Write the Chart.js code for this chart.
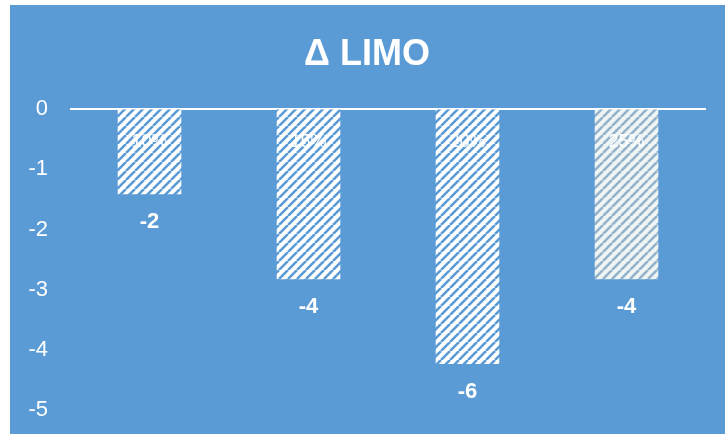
<!DOCTYPE html>
<html lang="en">
<head>
  <meta charset="UTF-8" />
  <title>Δ LIMO</title>
  <script src="https://cdn.jsdelivr.net/npm/chart.js"></script>
  <style>
    html, body { margin: 0; padding: 0; background: #fff; }
    canvas { display: block; }
  </style>
</head>
<body>
  <canvas id="limoChart" width="725" height="434"></canvas>

  <script>
    const categories = ['10%', '15%', '20%', '25%'];
    const limoDelta = [-2, -4, -6, -4];
    const axisTicks = [0, -1, -2, -3, -4, -5];

    const BLUE = '#5b9bd5';
    const canvas = document.getElementById('limoChart');
    const ctx = canvas.getContext('2d');

    // diagonal "/" hatch used to fill the bars
    function hatch(bg, fg) {
      const tile = document.createElement('canvas');
      tile.width = tile.height = 9;
      const g = tile.getContext('2d');
      g.fillStyle = bg;
      g.fillRect(0, 0, 9, 9);
      g.strokeStyle = fg;
      g.lineWidth = 2.6;
      g.beginPath();
      for (const o of [-9, 0, 9]) {
        g.moveTo(o, 9);
        g.lineTo(o + 9, 0);
      }
      g.stroke();
      return ctx.createPattern(tile, 'repeat');
    }

    const barFills = [
      hatch('#ffffff', BLUE),
      hatch('#ffffff', BLUE),
      hatch('#ffffff', BLUE),
      hatch('#eef5f4', '#94b2ca')
    ];

    const panelBackground = {
      id: 'panelBackground',
      beforeDraw(chart) {
        const c = chart.ctx;
        c.save();
        c.fillStyle = '#ffffff';
        c.fillRect(0, 0, chart.width, chart.height);
        c.fillStyle = BLUE;
        c.fillRect(10, 5, chart.width - 10, chart.height - 5);
        c.restore();
      }
    };

    // category names just under the zero line, values under each bar end
    const barText = {
      id: 'barText',
      afterDatasetsDraw(chart) {
        const c = chart.ctx;
        const meta = chart.getDatasetMeta(0);
        const zeroY = chart.scales.yBars.getPixelForValue(0);
        c.save();
        c.fillStyle = '#ffffff';
        c.textAlign = 'center';
        c.textBaseline = 'middle';
        meta.data.forEach((bar, i) => {
          c.font = '18px "Liberation Sans", Arial, sans-serif';
          c.fillText(categories[i], bar.x, zeroY + 33);
          c.font = 'bold 22px "Liberation Sans", Arial, sans-serif';
          c.fillText(String(limoDelta[i]), bar.x, bar.y + 28);
        });
        c.restore();
      }
    };

    new Chart(ctx, {
      type: 'bar',
      data: {
        labels: categories,
        datasets: [{
          data: limoDelta,
          yAxisID: 'yBars',
          backgroundColor: barFills,
          borderWidth: 0,
          categoryPercentage: 1,
          barPercentage: 0.4
        }]
      },
      options: {
        responsive: false,
        animation: false,
        layout: { padding: { left: 28, right: 19, top: 0, bottom: 24 } },
        plugins: {
          legend: { display: false },
          tooltip: { enabled: false },
          title: {
            display: true,
            text: 'Δ LIMO',
            color: '#ffffff',
            font: { family: '"Liberation Sans", Arial, sans-serif', size: 36, weight: 'bold', lineHeight: 1.2 },
            padding: { top: 33, bottom: 33 }
          }
        },
        scales: {
          x: { display: false },
          y: {
            position: 'left',
            min: axisTicks[axisTicks.length - 1],
            max: axisTicks[0],
            afterBuildTicks(scale) {
              scale.ticks = axisTicks.map(v => ({ value: v }));
            },
            // keep the label gutter narrow and let "-5" sit on the plot bottom
            afterFit(scale) {
              scale.width = 42;
              scale.paddingBottom = 12;
            },
            ticks: {
              color: '#ffffff',
              padding: 22,
              font: { family: '"Liberation Sans", Arial, sans-serif', size: 22 }
            },
            grid: {
              drawTicks: false,
              lineWidth: 2,
              color: c => (c.tick && c.tick.value === 0 ? '#ffffff' : 'rgba(0,0,0,0)')
            },
            border: { display: false }
          },
          yBars: {
            display: false,
            min: -7.08,
            max: 0
          }
        }
      },
      plugins: [panelBackground, barText]
    });
  </script>
</body>
</html>
